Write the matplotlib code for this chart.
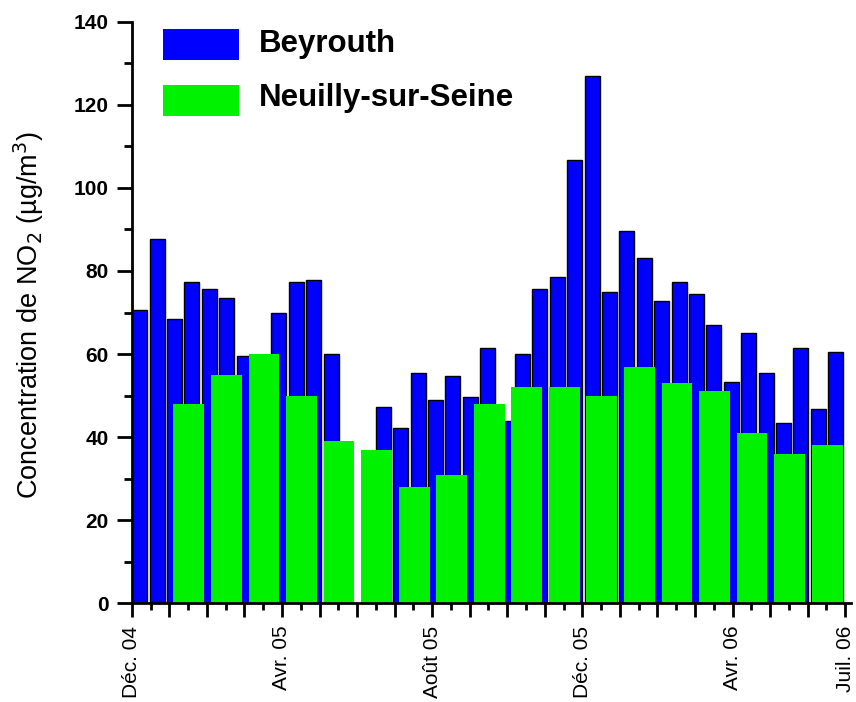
import numpy as np
import matplotlib
matplotlib.use("Agg")
import matplotlib.pyplot as plt
from matplotlib.patches import Rectangle
from matplotlib.ticker import FixedLocator, MultipleLocator

plt.rcParams['font.family'] = ['Liberation Sans', 'DejaVu Sans']

nan = np.nan
# Beyrouth: bi-weekly values (14-day campaigns) starting Dec 2004
beyrouth = [70.6, 87.8, 68.4, 77.3, 75.6, 73.5, 59.6, nan, 69.9, 77.3,
            77.9, 60.1, nan, nan, 47.3, 42.2, 55.4, 49.0, 54.7, 49.7,
            61.4, 44.0, 60.0, 75.6, 78.5, 106.7, 127.0, 74.9, 89.7, 83.0,
            72.8, 77.3, 74.4, 67.0, 53.3, 65.1, 55.4, 43.3, 61.5, 46.7, 60.4]
# Neuilly-sur-Seine: monthly values, Jan 2005 .. Jun 2006
neuilly_months = list(range(1, 19))
neuilly = [48, 55, 60, 50, 39, 37, 28, 31, 48, 52, 52, 50, 57, 53, 51, 41, 36, 38]

tick_months = [0, 4, 8, 12, 16, 19]
tick_labels = ["Déc. 04", "Avr. 05", "Août 05", "Déc. 05", "Avr. 06", "Juil. 06"]

series_names = ["Beyrouth", "Neuilly-sur-Seine"]
blue = '#0000ff'
green = '#00f200'

fig = plt.figure(figsize=(8.56, 7.02), dpi=100)
W, H = 856, 702
ax = fig.add_axes([131.8 / W, 98.7 / H, 719 / W, 581.6 / H])

step = 14 / 30.21  # 14-day campaigns expressed in months
bx = 0.21 + step * np.arange(len(beyrouth))
bv = np.array(beyrouth)
mask = ~np.isnan(bv)
ax.bar(bx[mask], bv[mask], width=0.40, color=blue, edgecolor='black',
       linewidth=1.0, zorder=2)
ax.bar(np.array(neuilly_months) + 0.52, neuilly, width=0.82, color=green,
       edgecolor='none', zorder=3)

ax.set_xlim(0, 19.15)
ax.set_ylim(0, 140)

for s in ['top', 'right']:
    ax.spines[s].set_visible(False)
for s in ['left', 'bottom']:
    ax.spines[s].set_linewidth(2)
    ax.spines[s].set_zorder(5)

ax.yaxis.set_major_locator(MultipleLocator(20))
ax.yaxis.set_minor_locator(MultipleLocator(10))
ax.tick_params(axis='y', which='major', direction='out', length=11, width=2,
               pad=5.5, labelsize=15)
ax.tick_params(axis='y', which='minor', direction='out', length=6, width=2)
for lab in ax.get_yticklabels():
    lab.set_fontweight('bold')

ax.xaxis.set_major_locator(FixedLocator(list(range(20))))
ax.xaxis.set_minor_locator(FixedLocator([m + 0.5 for m in range(19)]))
lab_map = dict(zip(tick_months, tick_labels))
ax.set_xticklabels([lab_map.get(m, "") for m in range(20)], rotation=90,
                   fontsize=15)
ax.tick_params(axis='x', which='major', direction='out', length=10, width=2,
               pad=6)
ax.tick_params(axis='x', which='minor', direction='out', length=5, width=2)

fig.text(29 / W, 1 - 315 / H, r"Concentration de NO$_2$ (µg/m$^3$)",
         rotation=90, ha='center', va='center', fontsize=19.5)

# legend
for (y0, col, name, base) in [(29, blue, series_names[0], 51.7),
                              (85, green, series_names[1], 106)]:
    fig.add_artist(Rectangle((162.7 / W, 1 - (y0 + 31) / H), 76.5 / W, 31 / H,
                             transform=fig.transFigure, facecolor=col,
                             edgecolor='none'))
    fig.text(258.5 / W, 1 - base / H, name, fontsize=22.5, fontweight='bold',
             ha='left', va='baseline')

fig.savefig('out.png', dpi=100)
